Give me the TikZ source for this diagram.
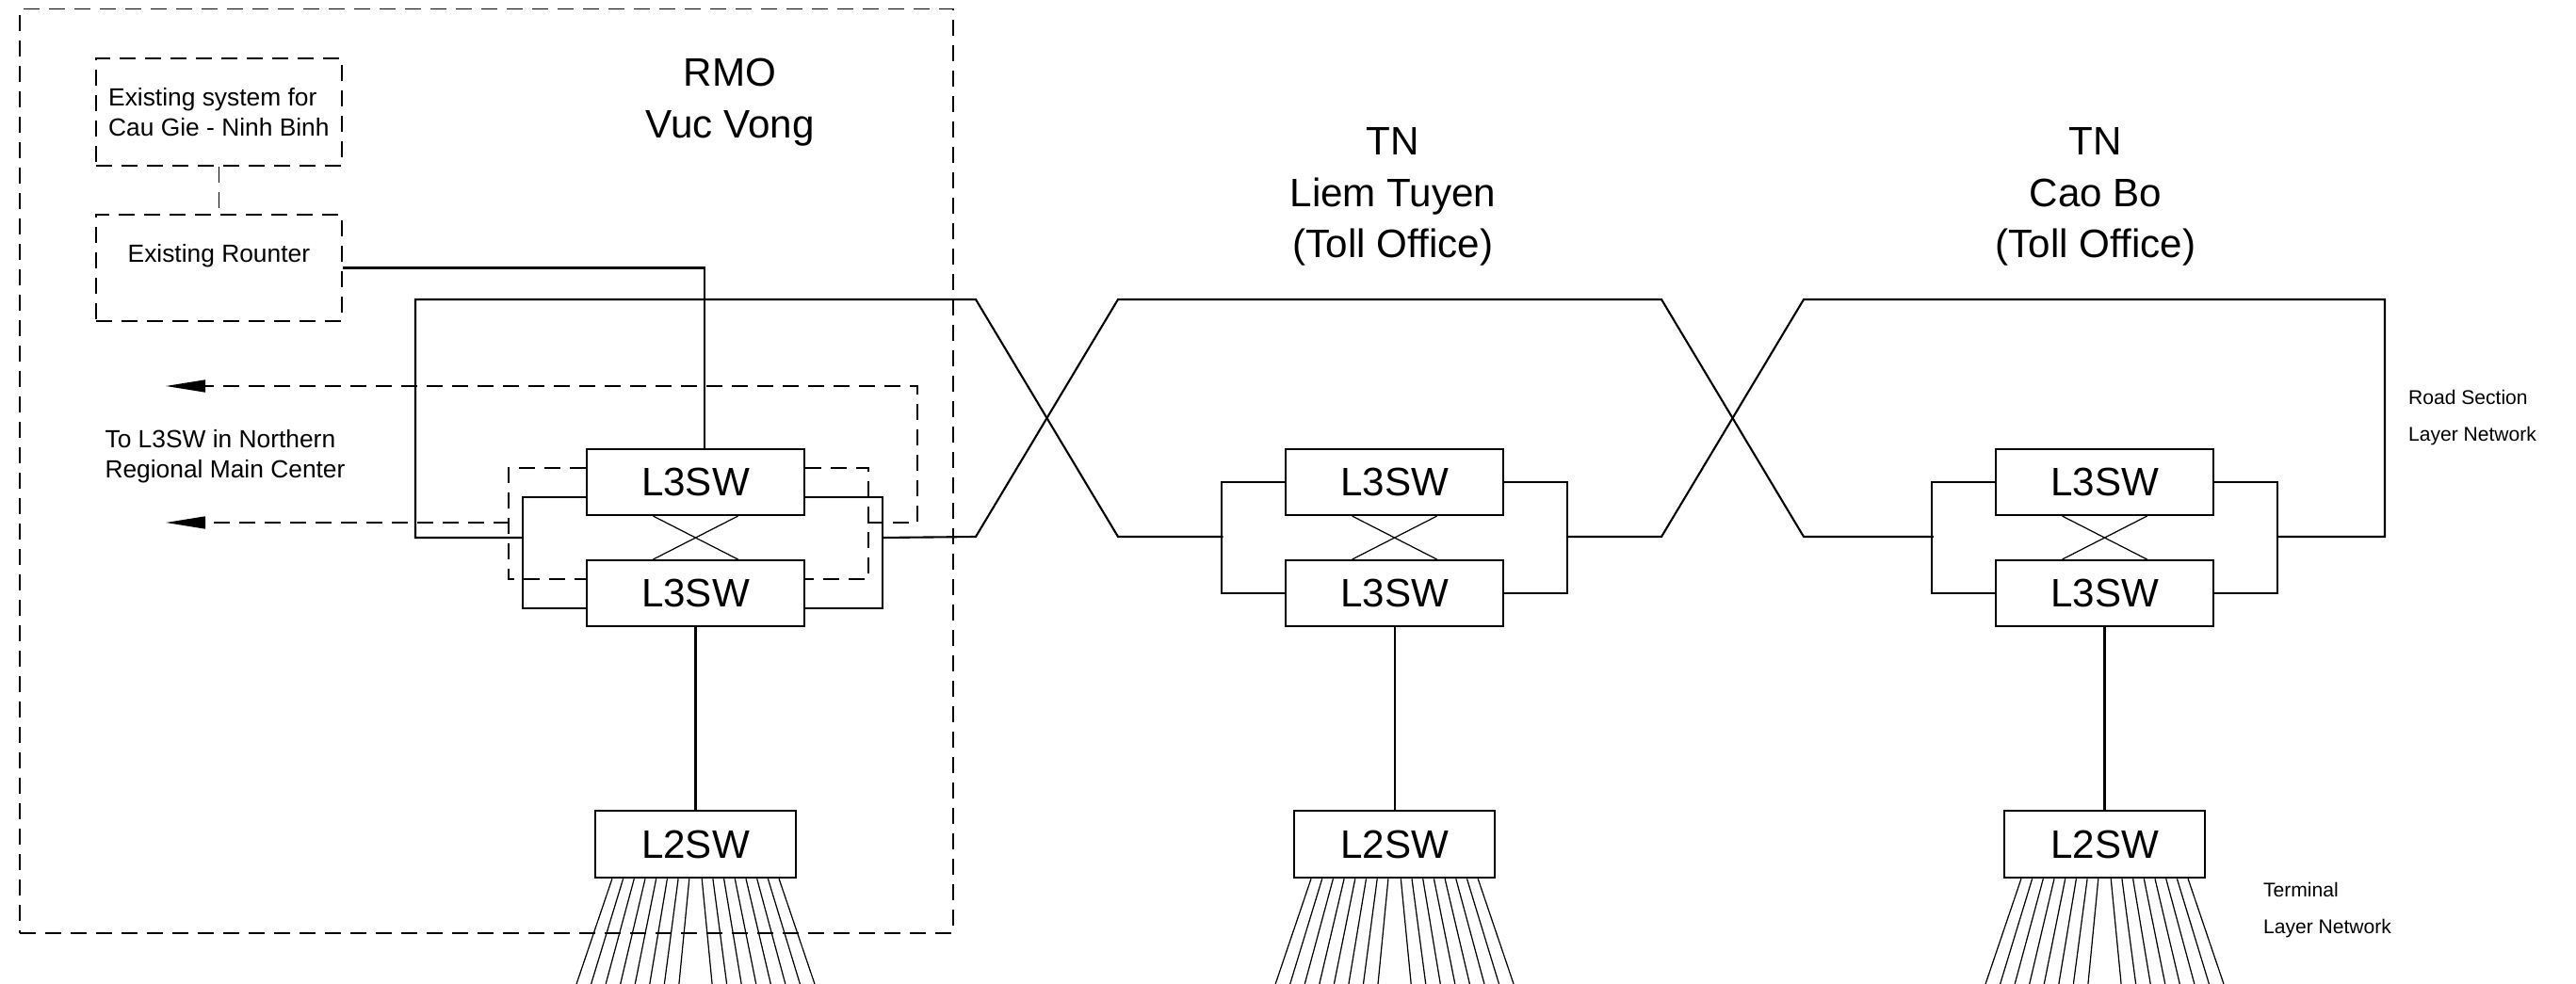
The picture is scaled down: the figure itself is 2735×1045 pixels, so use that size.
\documentclass[tikz,border=0pt]{standalone}
\usepackage{fontspec}
\setmainfont{Liberation Sans}
\usetikzlibrary{arrows.meta,positioning}

\begin{document}
\begin{tikzpicture}[
  x=0.1mm, y=-0.1mm,
  line width=0.6pt,
  node distance=4.6mm,
  sw/.style={draw, minimum width=23.1mm, minimum height=7mm, inner sep=0pt, font=\fontsize{12}{14}\selectfont},
  ltwo/.style={draw, minimum width=21.3mm, minimum height=7.1mm, inner sep=0pt, font=\fontsize{12}{14}\selectfont},
  dl/.style={line width=0.45pt, dash pattern=on 1.7mm off 1mm},
  ebox/.style={dl, draw, minimum width=26.1mm, inner sep=0pt, font=\fontsize{7.5}{9.3}\selectfont},
  site/.style={align=center, inner sep=0pt, font=\fontsize{12}{15.6}\selectfont},
  note/.style={align=left, anchor=west, inner sep=0pt},
  fan/.style={line width=0.35pt},
  a/.style={-{Triangle[length=4.2mm, width=1.3mm]}}]
\useasboundingbox (0,0) rectangle (2735,1045);

% RMO Vuc Vong
\node[dl, draw, minimum width=99.12mm, minimum height=98.14mm] (rmo) at (516.4,500.3) {};
\node[site] (rmot) at (775,109) {RMO\\Vuc Vong};
\node[ebox, minimum height=11.4mm, align=left] (old) at (232.4,119) {Existing system for\\Cau Gie - Ninh Binh};
\node[ebox, minimum height=11.3mm,
  label={[font=\fontsize{7.5}{9.3}\selectfont, yshift=1.25mm]center:Existing Rounter}] (router) at (232.4,284.5) {};
\node[note, font=\fontsize{7.5}{9.2}\selectfont] (tonorth) at (110.5,485) {To L3SW in Northern\\Regional Main Center};
\node[sw] (sw1a) at (738.5,512) {L3SW};
\node[sw, below=of sw1a] (sw1b) {L3SW};

% TN sites
\node[site] (tn2) at (1479,209) {TN\\Liem Tuyen\\(Toll Office)};
\node[sw] (sw2a) at (1480.6,512) {L3SW};
\node[sw, below=of sw2a] (sw2b) {L3SW};
\node[site] (tn3) at (2225,209) {TN\\Cao Bo\\(Toll Office)};
\node[sw] (sw3a) at (2234.5,512) {L3SW};
\node[sw, below=of sw3a] (sw3b) {L3SW};

\node[note, font=\fontsize{6}{11}\selectfont] (road) at (2556,443.5) {Road Section\\Layer Network};
\node[note, font=\fontsize{6}{11}\selectfont] (term) at (2402,966.5) {Terminal\\Layer Network};

% L2SW and terminals
\foreach \s in {1,2,3} {
  \node[ltwo, below=19.4mm of sw\s b] (l2sw\s) {L2SW};
  \draw (sw\s b) -- (l2sw\s);
  \draw[fan] ([xshift=-4.5mm]sw\s a.south) -- ([xshift=4.5mm]sw\s b.north);
  \draw[fan] ([xshift=4.5mm]sw\s a.south) -- ([xshift=-4.5mm]sw\s b.north);
  \foreach \k in {0,...,7} {
    \draw[fan] ([xshift={0.67mm+\k*1.17mm}]l2sw\s.south) -- ++({11.3+4*\k},116);
    \draw[fan] ([xshift={-0.67mm-\k*1.17mm}]l2sw\s.south) -- ++({-11.3-4*\k},116);
  }
}

% switch pairs
\draw ([yshift=-1.6mm]sw1a.west) -- ++(-6.7mm,0) |- ([yshift=-1.6mm]sw1b.west);
\draw ([yshift=-1.6mm]sw1a.east) -- ++(8.2mm,0) |- ([yshift=-1.6mm]sw1b.east);
\draw[dl] ([yshift=1.5mm]sw1a.west) -- ++(-8.2mm,0) |- ([yshift=1.5mm]sw1b.west);
\draw[dl] ([yshift=1.5mm]sw1a.east) -- ++(6.7mm,0) |- ([yshift=1.5mm]sw1b.east);
\foreach \s in {2,3} {
  \draw (sw\s a.west) -- ++(-6.7mm,0) |- (sw\s b.west);
  \draw (sw\s a.east) -- ++(6.7mm,0) |- (sw\s b.east);
}

% road section ring
\coordinate (j1l) at (556,571);
\coordinate (j1r) at (936,571);
\coordinate (j2l) at (1298.5,570);
\coordinate (j2r) at (1662.8,570);
\coordinate (j3l) at (2052.8,570);
\coordinate (j3r) at (2417.6,570);
\draw (j1l) -- (441,571) -- (441,318) -- (1036,318) -- (1187,570) -- (j2l);
\draw (j1r) -- (1036,570) -- (1187,318) -- (1764,318) -- (1915,570) -- (j3l);
\draw (j2r) -- (1764,570) -- (1915,318) -- (2532,318) |- (j3r);

% existing system
\draw[dl] (old) -- (router);
\draw (router.east) -| ([xshift=0.95mm]sw1a.north);

% to northern center
\coordinate (d1l) at (541,555);
\coordinate (d1r) at (921,555);
\coordinate (n1) at (176,410);
\coordinate (n2) at (176,555);
\draw[dl, a] (d1r) -- (974,555) |- (n1);
\draw[dl, a] (d1l) -- (n2);
\end{tikzpicture}
\end{document}
